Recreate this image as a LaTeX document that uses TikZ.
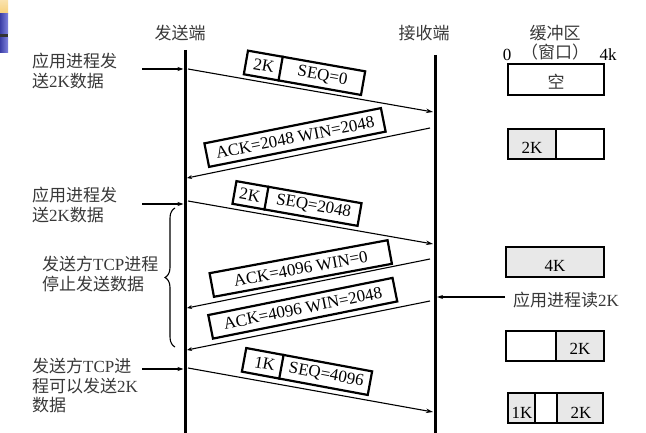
\documentclass[tikz,border=0pt]{standalone}
\usepackage{fontspec}
\setmainfont{Liberation Serif}
\newfontfamily\cjk{Noto Sans CJK SC}
\usetikzlibrary{arrows.meta,decorations.pathreplacing,calc}
\definecolor{bufgray}{HTML}{E8E8E8}
\definecolor{txtgray}{HTML}{383838}
\definecolor{barblue}{HTML}{4A4ED0}
\definecolor{baryellow}{HTML}{F6CF78}
\begin{document}
\begin{tikzpicture}[x=1pt,y=1pt,
  every node/.style={font=\fontsize{17}{19.5}\selectfont, inner sep=0pt},
  lifeline/.style={line width=3pt},
  msg/.style={line width=1.1pt,-{Stealth[length=7pt,width=4.5pt]}},
  ack/.style={line width=1.1pt,-{Stealth[length=5pt,width=4pt]}},
  feed/.style={line width=1.1pt,-{Stealth[length=6pt,width=4pt]}},
  pkt/.style={draw, line width=2.2pt, minimum height=24pt},
  divider/.style={line width=2.2pt},
  cell/.style={draw, line width=2pt, minimum height=30pt},
  full/.style={cell, fill=bufgray},
  lbl/.style={align=left, text=txtgray},
  head/.style={text=txtgray},
  bracestyle/.style={line width=1.1pt, decorate, decoration={brace, amplitude=10pt}}
]
\useasboundingbox (0,0) rectangle (646,-433);

% slide decoration bar
\shade[top color=baryellow!60!white, bottom color=baryellow] (0,0) rectangle (8,-14);
\shade[left color=barblue!80!black, right color=barblue!70!white] (0,-14) rectangle (8,-34);
\fill[black!80] (0,-34) rectangle (8,-38);
\shade[left color=barblue!80!black, right color=barblue!70!white] (0,-38) rectangle (8,-53);

% headers
\node[head] (hs) at (180,-33) {\cjk 发送端};
\node[head] (hr) at (424,-33) {\cjk 接收端};
\node[head] (hb) at (555,-33) {\cjk 缓冲区};
\node[head] (hw) at (555,-52) {\cjk （窗口）};
\node (z0) at (507,-55) {0};
\node (z4) at (608,-55) {4k};

% lifelines
\coordinate (sTop) at (185.5,-50);
\coordinate (sBot) at (185.5,-433);
\coordinate (rTop) at (435,-55);
\coordinate (rBot) at (435,-433);
\draw[lifeline] (sTop) -- (sBot);
\draw[lifeline] (rTop) -- (rBot);

% message end points
\coordinate (s1) at (188,-69);   \coordinate (r1) at (433,-112);
\coordinate (r2) at (430,-128);  \coordinate (s2) at (187,-178);
\coordinate (s3) at (188,-201);  \coordinate (r3) at (433,-244);
\coordinate (r4) at (430,-259);  \coordinate (s4) at (187,-308);
\coordinate (r5) at (430,-301);  \coordinate (s5) at (187,-350);
\coordinate (s6) at (188,-368);  \coordinate (r6) at (433,-412);
\draw[msg] (s1) -- (r1);
\draw[ack] (r2) -- (s2);
\draw[msg] (s3) -- (r3);
\draw[ack] (r4) -- (s4);
\draw[ack] (r5) -- (s5);
\draw[msg] (s6) -- (r6);

% packet 1
\node[pkt, minimum width=119pt, rotate=-10] (p1) at (304.5,-72.8) {};
\draw[divider] ($(p1.north west)!0.30!(p1.north east)$) -- ($(p1.south west)!0.30!(p1.south east)$);
\node[rotate=-10] (p1a) at ($(p1.west)!0.16!(p1.east)$) {2K};
\node[rotate=-10] (p1b) at ($(p1.west)!0.65!(p1.east)$) {SEQ=0};

% ack 1
\node[pkt, minimum width=180pt, rotate=11.3] (p2) at (295,-137.5) {ACK=2048 WIN=2048};

% packet 2
\node[pkt, minimum width=127pt, minimum height=23pt, rotate=-10] (p3) at (297,-203.5) {};
\draw[divider] ($(p3.north west)!0.26!(p3.north east)$) -- ($(p3.south west)!0.26!(p3.south east)$);
\node[rotate=-10] (p3a) at ($(p3.west)!0.13!(p3.east)$) {2K};
\node[rotate=-10] (p3b) at ($(p3.west)!0.63!(p3.east)$) {SEQ=2048};

% ack 2, ack 3
\node[pkt, minimum width=181pt, rotate=10.5] (p4) at (300.75,-268.5) {ACK=4096 WIN=0};
\node[pkt, minimum width=188pt, rotate=11.4] (p5) at (302.75,-308.25) {ACK=4096 WIN=2048};

% packet 3
\node[pkt, minimum width=128pt, rotate=-10.5] (p6) at (307,-371.5) {};
\draw[divider] ($(p6.north west)!0.30!(p6.north east)$) -- ($(p6.south west)!0.30!(p6.south east)$);
\node[rotate=-10.5] (p6a) at ($(p6.west)!0.17!(p6.east)$) {1K};
\node[rotate=-10.5] (p6b) at ($(p6.west)!0.65!(p6.east)$) {SEQ=4096};

% buffers
\node[cell, minimum width=96pt, minimum height=31pt] (b1) at (556,-80) {};
\node[head] (b1t) at (556,-82) {\cjk 空};

\node[full, minimum width=48pt] (b2a) at (532,-144) {};
\node[cell, minimum width=48pt] (b2b) at (580,-144) {};
\node (b2t) at (532,-148) {2K};

\node[full, minimum width=98pt] (b3) at (555,-262) {};
\node (b3t) at (555,-266) {4K};

\node[cell, minimum width=50pt] (b4a) at (531,-345.5) {};
\node[full, minimum width=48pt] (b4b) at (580,-345.5) {};
\node (b4t) at (580,-349) {2K};

\node[full, minimum width=27pt] (b5a) at (521.5,-408) {};
\node[cell, minimum width=22pt] (b5b) at (546,-408) {};
\node[full, minimum width=46pt] (b5c) at (580,-408) {};
\node (b5t1) at (522,-413) {1K};
\node (b5t2) at (581,-413) {2K};

% left labels
\node[lbl, anchor=west] (l1) at (32,-71) {{\cjk 应用进程发}\\{\cjk 送}2K{\cjk 数据}};
\node[lbl, anchor=west] (l2) at (32,-205) {{\cjk 应用进程发}\\{\cjk 送}2K{\cjk 数据}};
\node[lbl, anchor=west] (l3) at (42,-274) {{\cjk 发送方}TCP{\cjk 进程}\\{\cjk 停止发送数据}};
\node[lbl, anchor=west] (l4) at (32,-386) {{\cjk 发送方}TCP{\cjk 进}\\{\cjk 程可以发送}2K\\{\cjk 数据}};
\node[lbl, anchor=west] (l5) at (513,-300) {{\cjk 应用进程读}2K};

% feeding arrows
\coordinate (f1) at (142,-69);  \coordinate (g1) at (183.5,-69);
\coordinate (f2) at (142,-204); \coordinate (g2) at (183.5,-204);
\coordinate (f3) at (142,-369); \coordinate (g3) at (183.5,-369);
\coordinate (f4) at (505,-297); \coordinate (g4) at (437,-297);
\draw[feed] (f1) -- (g1);
\draw[feed] (f2) -- (g2);
\draw[feed] (f3) -- (g3);
\draw[feed] (f4) -- (g4);

% brace
\coordinate (brB) at (175,-347);
\coordinate (brT) at (175,-208);
\draw[bracestyle] (brB) -- (brT);
\end{tikzpicture}
\end{document}
